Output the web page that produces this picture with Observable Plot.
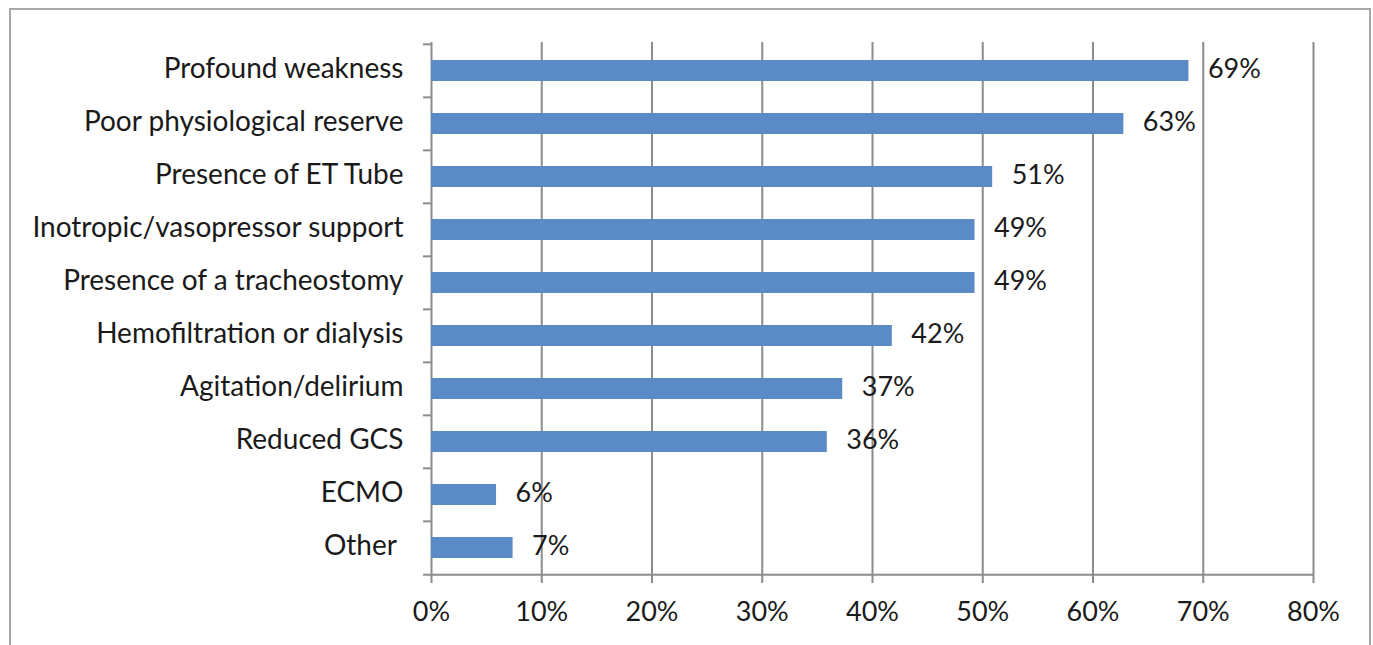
<!DOCTYPE html>
<html>
<head>
<meta charset="utf-8">
<script src="https://cdn.jsdelivr.net/npm/d3@7"></script>
<script src="https://cdn.jsdelivr.net/npm/@observablehq/plot@0.6"></script>
<style>
  html, body { margin: 0; padding: 0; background: #fff; overflow: hidden; }
  #wrap { position: relative; width: 1373px; height: 645px; }
  #border { position: absolute; left: 9px; top: 8px; width: 1362px; height: 700px; border: 2px solid #a8a8a8; box-sizing: border-box; }
  #chart { position: absolute; left: 0; top: 0; }
</style>
</head>
<body>
<div id="wrap">
  <div id="border"></div>
  <div id="chart"></div>
</div>
<script>
const categories = [
  "Profound weakness",
  "Poor physiological reserve",
  "Presence of ET Tube",
  "Inotropic/vasopressor support",
  "Presence of a tracheostomy",
  "Hemofiltration or dialysis",
  "Agitation/delirium",
  "Reduced GCS",
  "ECMO",
  "Other "
];
const values = [0.687, 0.628, 0.509, 0.493, 0.493, 0.418, 0.373, 0.359, 0.059, 0.074];
const xTicks = [0, 0.1, 0.2, 0.3, 0.4, 0.5, 0.6, 0.7, 0.8];

const data = categories.map((c, i) => ({category: c, value: values[i]}));

const W = 1373, H = 645;
const mL = 431, mR = 60, mT = 42, mB = 70;
const step = (H - mT - mB) / categories.length;
const gridColor = "#8c8c8c";
const font = "Lato, 'Open Sans', sans-serif";

const chart = Plot.plot({
  width: W,
  height: H,
  marginLeft: mL,
  marginRight: mR,
  marginTop: mT,
  marginBottom: mB,
  style: {fontFamily: font, fontSize: "27px", color: "#1a1a1a", background: "transparent"},
  x: {domain: [0, 0.8]},
  y: {domain: categories, paddingInner: 0.61, paddingOuter: 0.305},
  marks: [
    Plot.gridX(xTicks, {stroke: gridColor, strokeOpacity: 1, strokeWidth: 2}),
    Plot.ruleY(categories, {y: d => d, x1: 0, x2: 0, insetLeft: -8, dy: -step / 2, stroke: gridColor, strokeWidth: 2}),
    Plot.ruleY([categories[categories.length - 1]], {y: d => d, x1: 0, x2: 0.8, insetLeft: -8, dy: step / 2, stroke: gridColor, strokeWidth: 2}),
    Plot.ruleX([0], {y1: categories[0], y2: categories[categories.length - 1], insetTop: -step / 2, insetBottom: -step / 2, stroke: gridColor, strokeWidth: 2}),
    Plot.barX(data, {x: "value", y: "category", fill: "#5b8bc6"}),
    Plot.text(data, {x: "value", y: "category", text: d => d3.format(".0%")(d.value), textAnchor: "start", dx: 19, dy: -1.5, fill: "#1a1a1a", fontSize: 27}),
    Plot.axisX({ticks: xTicks, tickFormat: d3.format(".0%"), tickSize: 8, tickPadding: 18, stroke: gridColor, strokeWidth: 2, strokeOpacity: 1, fill: "#1a1a1a", label: null}),
    Plot.axisY({tickSize: 0, tickPadding: 28, dy: -2, fill: "#1a1a1a", fontSize: 28, label: null})
  ]
});
document.getElementById("chart").appendChild(chart);
</script>
</body>
</html>
